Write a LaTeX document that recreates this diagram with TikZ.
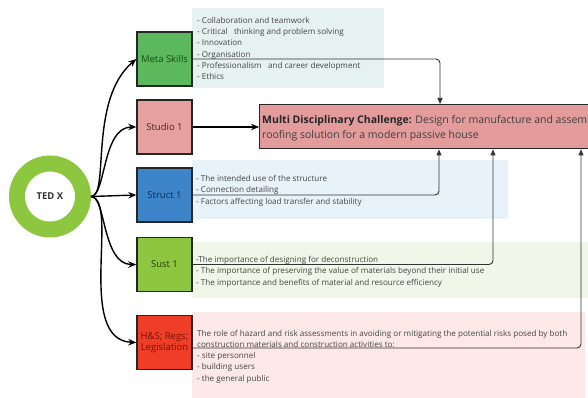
\documentclass[tikz,border=0pt]{standalone}
\usepackage{fontspec}
\setmainfont{Open Sans}
\usetikzlibrary{arrows.meta,calc}
\definecolor{ringG}{HTML}{8DC63F}
\definecolor{metaG}{HTML}{5CB85C}
\definecolor{studioP}{HTML}{E6A0A0}
\definecolor{chalP}{HTML}{E39B9B}
\definecolor{structB}{HTML}{3D85C8}
\definecolor{sustG}{HTML}{8DC63F}
\definecolor{hsR}{HTML}{EE3E27}
\definecolor{pMeta}{HTML}{E6F2EF}
\definecolor{pStruct}{HTML}{E7F2FB}
\definecolor{pSust}{HTML}{F2F6E9}
\definecolor{pHS}{HTML}{FCE9E7}
\definecolor{txtG}{HTML}{444444}
\begin{document}
\begin{tikzpicture}[x=1pt,y=-1pt,
  box/.style={draw=black!85,line width=1.4pt,minimum width=55pt,minimum height=54pt,inner sep=0pt,align=center,font=\fontsize{9.5}{11.5}\selectfont},
  ptxt/.style={anchor=base west,inner sep=0pt,text=txtG,font=\fontsize{8.1}{9}\selectfont},
  tedarrow/.style={line width=1.4pt,-{Stealth[length=8pt,width=6.5pt]}},
  conn/.style={draw=black!80,line width=0.9pt,rounded corners=4pt,-{Triangle[length=6pt,width=5pt]}}]
\useasboundingbox (0,0) rectangle (588,398);
\begin{scope}
\clip (0,0) rectangle (588,398);
% panels
\fill[pMeta] (192,8) rectangle (384,88);
\fill[pStruct] (192,160) rectangle (508,219);
\fill[pSust] (192,242) rectangle (588,298);
\fill[pHS] (192,312) rectangle (585,398);
% challenge box
\node[draw=black!85,line width=1.4pt,fill=chalP,anchor=north west,minimum width=345pt,minimum height=44pt,inner sep=0pt] (chal) at (259,104) {};
\node[anchor=base west,inner sep=0pt,text=black!75,font=\fontsize{10.5}{12}\selectfont] (chal1) at (262,123.5) {\textbf{\color{black!85}Multi Disciplinary Challenge:} Design for manufacture and assembly of a};
\node[anchor=base west,inner sep=0pt,text=black!75,font=\fontsize{10.5}{12}\selectfont] (chal2) at (262,138.5) {roofing solution for a modern passive house};
\end{scope}
% panel texts
\node[ptxt] (m1) at (197,23.5) {- Collaboration and teamwork};
\node[ptxt] (m2) at (197,34.7) {- Critical\ \ \ thinking and problem solving};
\node[ptxt] (m3) at (197,45.9) {- Innovation};
\node[ptxt] (m4) at (197,57.1) {- Organisation};
\node[ptxt] (m5) at (197,68.3) {- Professionalism\ \ \ and career development};
\node[ptxt] (m6) at (197,79.5) {- Ethics};
\node[ptxt] (s1) at (196,181) {- The intended use of the structure};
\node[ptxt] (s2) at (196,192.7) {- Connection detailing};
\node[ptxt] (s3) at (196,204.4) {- Factors affecting load transfer and stability};
\node[ptxt] (u1) at (196,262) {-The importance of designing for deconstruction};
\node[ptxt] (u2) at (196,273.5) {- The importance of preserving the value of materials beyond their initial use};
\node[ptxt] (u3) at (196,285) {- The importance and benefits of material and resource efficiency};
\node[ptxt] (h1) at (197,336) {The role of hazard and risk assessments in avoiding or mitigating the potential risks posed by both};
\node[ptxt] (h2) at (197,347.3) {construction materials and construction activities to:};
\node[ptxt] (h3) at (197,358.6) {- site personnel};
\node[ptxt] (h4) at (197,369.9) {- building users};
\node[ptxt] (h5) at (197,381.2) {- the general public};
% boxes
\node[box,fill=metaG,text={rgb,255:red,25;green,80;blue,25}] (meta) at (164.5,59) {Meta Skills};
\node[box,fill=studioP,text={rgb,255:red,80;green,35;blue,35}] (studio) at (164.5,127) {Studio 1};
\node[box,fill=structB,text={rgb,255:red,12;green,45;blue,85}] (struct) at (164.5,195) {Struct 1};
\node[box,fill=sustG,text={rgb,255:red,40;green,60;blue,15}] (sust) at (164.5,264.5) {Sust 1};
\node[box,fill=hsR,text={rgb,255:red,120;green,20;blue,5}] (hs) at (164.5,342.5) {H\&S; Regs;\\Legislation};
% TED X
\node[circle,draw=ringG,line width=16pt,minimum size=66pt,inner sep=0pt,font=\fontsize{9.5}{11}\selectfont\bfseries,text=black!80] (ted) at (50,196.5) {TED X};
% TED arrows
\draw[tedarrow] (ted.east) .. controls (110,196) and (88,100) .. (meta.west |- 0,59);
\draw[tedarrow] (ted.east) .. controls (106,196) and (102,127) .. (studio.west);
\draw[tedarrow] (ted.east) -- (struct.west);
\draw[tedarrow] (ted.east) .. controls (106,196) and (102,264.5) .. (sust.west);
\draw[tedarrow] (ted.east) .. controls (120,200) and (75,340) .. (hs.west);
% connectors to challenge
\coordinate (xm) at (440,0);
\coordinate (xs) at (439,0);
\coordinate (xu) at (493,0);
\coordinate (xh) at (581,0);
\draw[tedarrow,line width=1.1pt] (studio.east) -- (chal.west |- studio.east);
\draw[conn] (meta.east) -| (xm |- chal.north);
\draw[conn] (struct.east) -| (xs |- chal.south);
\draw[conn] (sust.east) -| (xu |- chal.south);
\draw[conn] ($(hs.east)+(0,5.5)$) -| (xh |- chal.south);
\end{tikzpicture}
\end{document}
